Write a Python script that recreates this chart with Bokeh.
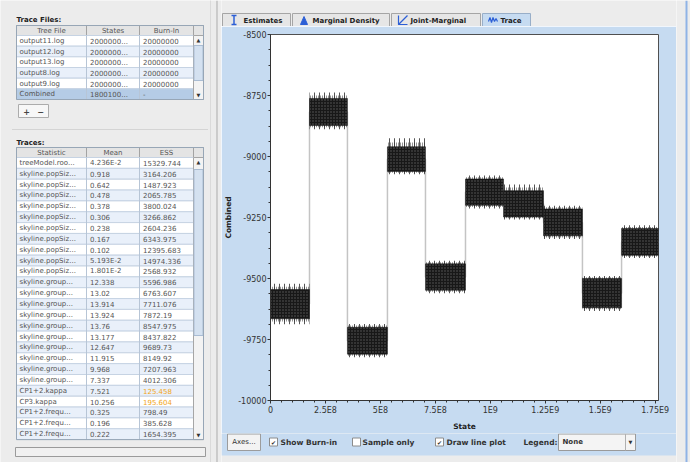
import numpy as np
from bokeh.plotting import figure
from bokeh.layouts import row, column
from bokeh.models import Range1d, FixedTicker
from bokeh.core.properties import value
from bokeh.embed import file_html
from bokeh.resources import INLINE

# ---------------- data ----------------
state_ticks = [0, 250000000, 500000000, 750000000, 1000000000, 1250000000, 1500000000, 1750000000]
state_tick_labels = ["0", "2.5E8", "5E8", "7.5E8", "1E9", "1.25E9", "1.5E9", "1.75E9"]
combined_ticks = [-10000, -9750, -9500, -9250, -9000, -8750, -8500]
combined_tick_labels = ["-10000", "-9750", "-9500", "-9250", "-9000", "-8750", "-8500"]

# ten combined chains (one block per log file)
block_start = [0, 1.774e8, 3.50e8, 5.32e8, 7.05e8, 8.87e8, 1.060e9, 1.242e9, 1.419e9, 1.597e9]
block_end = [1.774e8, 3.50e8, 5.32e8, 7.05e8, 8.87e8, 1.060e9, 1.242e9, 1.419e9, 1.597e9, 1.765e9]
dense_high = [-9545, -8762, -9700, -8960, -9440, -9092, -9140, -9215, -9500, -9295]
dense_low = [-9665, -8873, -9810, -9061, -9548, -9200, -9248, -9325, -9620, -9405]
spike_high = [-9522, -8738, -9686, -8925, -9427, -9078, -9115, -9202, -9490, -9282]
spike_low = [-9688, -8888, -9823, -9073, -9560, -9213, -9258, -9338, -9633, -9416]

trace_files = ["output11.log", "output12.log", "output13.log", "output8.log", "output9.log", "Combined"]
file_states = ["2000000...", "2000000...", "2000000...", "2000000...", "2000000...", "1800100..."]
file_burnin = ["20000000", "20000000", "20000000", "20000000", "20000000", "-"]

stat_names = ["treeModel.roo..."] + ["skyline.popSiz..."] * 10 + ["skyline.group..."] * 10 + \
             ["CP1+2.kappa", "CP3.kappa", "CP1+2.frequ...", "CP1+2.frequ...", "CP1+2.frequ..."]
stat_means = ["4.236E-2", "0.918", "0.642", "0.478", "0.378", "0.306", "0.238", "0.167", "0.102",
              "5.193E-2", "1.801E-2", "12.338", "13.02", "13.914", "13.924", "13.76", "13.177",
              "12.647", "11.915", "9.968", "7.337", "7.521", "10.256", "0.325", "0.196", "0.222"]
stat_ess = ["15329.744", "3164.206", "1487.923", "2065.785", "3800.024", "3266.862", "2604.236",
            "6343.975", "12395.683", "14974.336", "2568.932", "5596.986", "6763.607", "7711.076",
            "7872.19", "8547.975", "8437.822", "9689.73", "8149.92", "7207.963", "4012.306",
            "125.458", "195.604", "798.49", "385.628", "1654.395"]
ess_low = [False] * 21 + [True, True, False, False, False]

tab_names = ["Estimates", "Marginal Density", "Joint-Marginal", "Trace"]
control_labels = ["Show Burn-in", "Sample only", "Draw line plot", "Legend:"]
control_checked = [True, False, True]

# ---------------- styles ----------------
GRAY = "#ececec"
BLUE = "#c6dbf1"
FONT = value("DejaVu Sans")
TXT = "#555555"
ICON = "#2c5fd6"


def canvas(w, h, x0, x1, y0, y1, bg):
    f = figure(width=w, height=h, x_range=Range1d(x0, x1), y_range=Range1d(y1, y0),
               output_backend="svg", toolbar_location=None, min_border=0,
               x_axis_location=None, y_axis_location=None, frame_align=False,
               background_fill_color=bg, border_fill_color=bg, outline_line_color=None)
    f.grid.visible = False
    return f


def txt(f, xs, ys, labels, size="7px", color=TXT, bold=False, align="left"):
    f.text(x=xs, y=ys, text=labels, text_font=FONT, text_font_size=size,
           text_color=color, text_align=align, text_baseline="middle",
           text_font_style="bold" if bold else "normal")


# ---------------- left panel ----------------
L = canvas(221, 462, 0, 221, 0, 462, GRAY)
L.segment(x0=[210], y0=[0], x1=[210], y1=[462], line_color="#c8c8c8", line_dash="1 1")
L.segment(x0=[216.5], y0=[0], x1=[216.5], y1=[462], line_color="#ababab")
L.segment(x0=[12], y0=[129], x1=[207], y1=[129], line_color="#bdbdbd", line_dash="1 1")


def table(f, title, title_y, head_top, row_h, headers, cols, colors, selected_last, thumb):
    n = len(cols[0])
    edges = [16, 86, 139, 193]
    body_top = head_top + 10
    body_bot = body_top + n * row_h
    txt(f, [16], [title_y], [title], color="#222222", bold=True)
    f.quad(left=[16], right=[203], top=[head_top], bottom=[body_top], fill_color="#e4e4e4",
           line_color="#a3a3a3")
    f.segment(x0=edges[1:], y0=[head_top] * 3, x1=edges[1:], y1=[body_top] * 3,
              line_color="#a3a3a3")
    txt(f, [51, 112.5, 166], [head_top + 5] * 3, headers, align="center")
    tops = [body_top + i * row_h for i in range(n)]
    bots = [t + row_h for t in tops]
    fills = ["#ffffff" if i % 2 == 0 else "#e9f0fa" for i in range(n)]
    if selected_last:
        fills[-1] = "#b5cce6"
    f.quad(left=[16] * n, right=[193] * n, top=tops, bottom=bots, fill_color=fills,
           line_color="#c6d3e3", line_width=1)
    f.segment(x0=edges[1:3], y0=[body_top] * 2, x1=edges[1:3], y1=[body_bot] * 2,
              line_color="#b7c5d6")
    mids = [t + row_h / 2 for t in tops]
    for xi, colvals, ccol in zip([19, 89.5, 142.5], cols, colors):
        txt(f, [xi] * n, mids, colvals, color=ccol)
    f.quad(left=[193], right=[203], top=[body_top], bottom=[body_bot], fill_color="#f3f3f3",
           line_color="#a6a6a6")
    f.quad(left=[193.5], right=[202.5], top=[thumb[0]], bottom=[thumb[1]], fill_color="#d4e1f0",
           line_color="#a9bcd3")
    txt(f, [198, 198], [body_top + 4.5, body_bot - 4.5], ["\u25b2", "\u25bc"], size="5px",
        color="#333333", align="center")
    f.quad(left=[16], right=[203], top=[head_top], bottom=[body_bot], fill_color=None,
           line_color="#97a6b6")


table(L, "Trace Files:", 19, 25, 64 / 6, ["Tree File", "States", "Burn-In"],
      [trace_files, file_states, file_burnin], [TXT, TXT, TXT], True, (45, 80))

L.quad(left=[18], right=[48], top=[104], bottom=[117], fill_color="#f7f7f7", line_color="#acacac")
txt(L, [26, 40], [110.5, 110.5], ["+", "\u2212"], size="8px", color="#444444", bold=True,
    align="center")

ess_colors = ["#f2a516" if low else TXT for low in ess_low]
table(L, "Traces:", 142, 147, 10.85, ["Statistic", "Mean", "ESS"],
      [stat_names, stat_means, stat_ess], [TXT, TXT, ess_colors], False, (169, 335))

L.quad(left=[15], right=[205], top=[447], bottom=[456], fill_color="#f0f0f0", line_color="#9a9a9a")

# ---------------- tabs ----------------
T = canvas(455, 26, 221, 676, 0, 26, GRAY)
tab_l = [222, 292, 391, 482]
tab_r = [290, 389, 480, 530]
T.quad(left=tab_l[:3], right=tab_r[:3], top=[13] * 3, bottom=[27] * 3, fill_color="#e6e6e6",
       line_color="#a5a5a5")
T.quad(left=[tab_l[3]], right=[tab_r[3]], top=[13], bottom=[27], fill_color=BLUE,
       line_color="#98aec8")
txt(T, [243, 312, 410, 500], [20] * 4, tab_names, color="#222222", bold=True)
T.multi_line(xs=[[233.5, 233.5], [231, 236], [231, 236]], ys=[[15, 24], [15, 15], [24, 24]],
             line_color=ICON, line_width=1.5)
T.patch(x=[300, 303.5, 307], y=[24, 16, 24], fill_color=ICON, line_color=ICON)
T.multi_line(xs=[[398, 398, 407], [398, 407]], ys=[[15, 24, 24], [24, 15]], line_color=ICON,
             line_width=1.2)
T.line(x=[488, 489.5, 491, 492.5, 494, 495.5, 497], y=[21, 17, 22, 17, 21, 18, 21],
       line_color=ICON, line_width=1.2)

# ---------------- trace plot ----------------
P = figure(width=455, height=407, x_range=Range1d(0, 1.765e9), y_range=Range1d(-10000, -8500),
           output_backend="svg", toolbar_location=None, frame_align=False,
           min_border_left=10, min_border_right=18, min_border_top=8, min_border_bottom=10,
           background_fill_color="white", border_fill_color=BLUE,
           outline_line_color="#505050", outline_line_width=1)
P.grid.visible = False

step_x = block_start + [block_end[-1]]
mid = [(a + b) / 2 for a, b in zip(dense_high, dense_low)]
step_y = mid + [mid[-1]]
inner_high = [(a + b) / 2 for a, b in zip(dense_high, spike_high)]
inner_low = [(a + b) / 2 for a, b in zip(dense_low, spike_low)]
P.step(x=step_x, y=step_y, mode="after", line_color="#c4c4c4", line_width=1.5)
P.quad(left=block_start, right=block_end, top=spike_high, bottom=spike_low,
       fill_color="white", fill_alpha=0.0, line_color=None,
       hatch_pattern="vertical_line", hatch_color="#555555", hatch_scale=5, hatch_weight=1)
P.quad(left=block_start, right=block_end, top=inner_high, bottom=inner_low,
       fill_color="white", fill_alpha=0.0, line_color=None,
       hatch_pattern="vertical_line", hatch_color="#2a2a2a", hatch_scale=2, hatch_weight=1)
P.quad(left=block_start, right=block_end, top=dense_high, bottom=dense_low,
       fill_color="#181818", line_color="#181818", line_width=0.5,
       hatch_pattern="dot", hatch_color="#5e5e5e", hatch_scale=3, hatch_weight=1)

x_minor = [float(v) for v in np.arange(0, 1.76e9, 5e7)]
y_minor = [float(v) for v in np.arange(-10000, -8499, 62.5)]
P.xaxis.ticker = FixedTicker(ticks=state_ticks, minor_ticks=x_minor)
P.yaxis.ticker = FixedTicker(ticks=combined_ticks, minor_ticks=y_minor)
P.xaxis.major_label_overrides = dict(zip(state_ticks, state_tick_labels))
P.yaxis.major_label_overrides = dict(zip(combined_ticks, combined_tick_labels))
P.xaxis.axis_label = "State"
P.yaxis.axis_label = "Combined"
for ax in (P.xaxis, P.yaxis):
    ax.axis_line_color = "#333333"
    ax.major_tick_line_color = "#333333"
    ax.minor_tick_line_color = "#333333"
    ax.major_tick_in = 0
    ax.major_tick_out = 3
    ax.minor_tick_in = 0
    ax.minor_tick_out = 2
    ax.major_label_text_font = "DejaVu Sans"
    ax.major_label_text_font_size = "8px"
    ax.major_label_text_color = "#333333"
    ax.axis_label_text_font = "DejaVu Sans"
    ax.axis_label_text_font_size = "7.5px"
    ax.axis_label_text_font_style = "bold"
    ax.axis_label_text_color = "#222222"
P.xaxis.major_label_standoff = 2
P.xaxis.axis_label_standoff = 4
P.yaxis.major_label_standoff = 1
P.yaxis.axis_label_standoff = 2

# ---------------- controls ----------------
C = canvas(455, 29, 221, 676, 433, 462, GRAY)
C.quad(left=[221], right=[676], top=[432], bottom=[455], fill_color=BLUE, line_color=None)
C.quad(left=[227], right=[260], top=[433.5], bottom=[450], fill_color="#f3f3f3", line_color="#9c9c9c")
txt(C, [243.5], [441.5], ["Axes..."], color="#333333", align="center")
box_x = [269, 352, 435]
C.quad(left=box_x, right=[b + 8 for b in box_x], top=[437.5] * 3, bottom=[445.5] * 3,
       fill_color="white", line_color="#8c8c8c")
checked_x = [b + 4 for b, c in zip(box_x, control_checked) if c]
txt(C, checked_x, [441.5] * len(checked_x), ["\u2714"] * len(checked_x), size="6px",
    color="#333333", align="center")
txt(C, [280, 362, 446, 523], [441.5] * 4, control_labels, size="7.5px", color="#333333", bold=True)
C.quad(left=[558], right=[635], top=[433.5], bottom=[450], fill_color="#f4f4f4", line_color="#9a9a9a")
C.segment(x0=[625], y0=[433.5], x1=[625], y1=[450], line_color="#b0b0b0")
txt(C, [562], [441.5], ["None"], color="#333333", bold=True)
txt(C, [630], [441.5], ["\u25bc"], size="5px", color="#333333", align="center")

R = canvas(14, 462, 676, 690, 0, 462, GRAY)
R.quad(left=[685], right=[687], top=[0], bottom=[462], fill_color="#8fb3e6", line_color=None)

layout = row(L, column(T, P, C), R)
open("out.html", "w").write(file_html(layout, INLINE))
